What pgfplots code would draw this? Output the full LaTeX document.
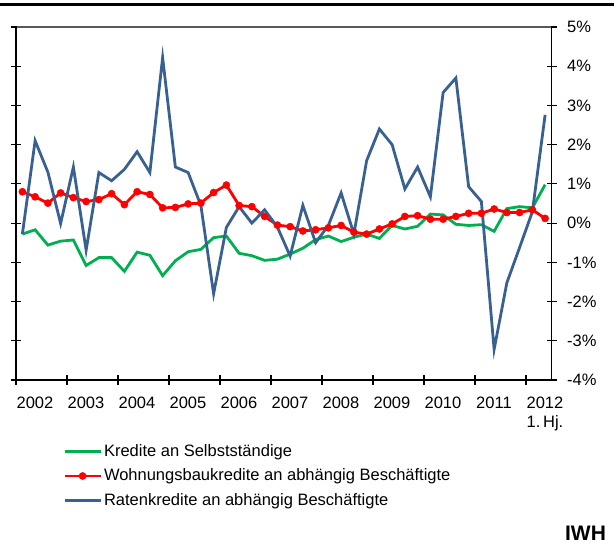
\documentclass[border=0pt]{standalone}
\usepackage{fontspec}
\setmainfont{Liberation Sans}
\usepackage{pgfplots}
\usepackage{pgfplotstable}
\pgfplotsset{compat=1.18}
\definecolor{kgreen}{RGB}{0,176,80}
\definecolor{kred}{RGB}{255,0,0}
\definecolor{kblue}{RGB}{56,97,146}
\definecolor{kgray}{RGB}{89,89,89}

\pgfplotstableread{
x        green  red    blue
2002.125 -0.28  0.80  -0.28
2002.375 -0.17  0.67   2.10
2002.625 -0.56  0.51   1.30
2002.875 -0.46  0.77  -0.01
2003.125 -0.43  0.65   1.43
2003.375 -1.08  0.55  -0.69
2003.625 -0.88  0.60   1.29
2003.875 -0.88  0.75   1.08
2004.125 -1.23  0.47   1.37
2004.375 -0.74  0.80   1.82
2004.625 -0.82  0.73   1.29
2004.875 -1.34  0.39   4.22
2005.125 -0.96  0.40   1.43
2005.375 -0.73  0.49   1.29
2005.625 -0.67  0.51   0.45
2005.875 -0.37  0.78  -1.80
2006.125 -0.33  0.97  -0.11
2006.375 -0.77  0.45   0.42
2006.625 -0.83  0.42   0.00
2006.875 -0.95  0.17   0.34
2007.125 -0.92 -0.05  -0.10
2007.375 -0.79 -0.09  -0.84
2007.625 -0.64 -0.20   0.45
2007.875 -0.42 -0.17  -0.50
2008.125 -0.33 -0.12  -0.06
2008.375 -0.47 -0.06   0.77
2008.625 -0.36 -0.23  -0.28
2008.875 -0.28 -0.28   1.59
2009.125 -0.39 -0.15   2.40
2009.375 -0.06 -0.02   2.00
2009.625 -0.15  0.17   0.87
2009.875 -0.08  0.19   1.43
2010.125  0.23  0.10   0.67
2010.375  0.21  0.10   3.33
2010.625 -0.03  0.17   3.70
2010.875 -0.06  0.25   0.93
2011.125 -0.04  0.25   0.55
2011.375 -0.21  0.36  -3.22
2011.625  0.37  0.27  -1.52
2011.875  0.42  0.27  -0.62
2012.125  0.39  0.34   0.29
2012.375  0.98  0.12   2.76
}\kredite

\begin{document}
\fontsize{16.5}{19.8}\selectfont
\begin{tikzpicture}[x=1pt,y=1pt]
\useasboundingbox (0,0) rectangle (614,544);
\draw[line width=2.8pt] (0,539.3) -- (614,539.3);
\begin{axis}[
  at={(16pt,164pt)}, anchor=south west,
  scale only axis, width=535.5pt, height=353pt,
  xmin=2002, xmax=2012.5, ymin=-4, ymax=5,
  axis line style={draw=none},
  xtick={2002,...,2012},
  xticklabels={2002,2003,2004,2005,2006,2007,2008,2009,2010,2011,{2012\\1.\,Hj.}},
  xtick pos=bottom,
  ytick={-4,-3,...,5},
  ytick pos=both,
  yticklabel pos=right,
  yticklabel={\pgfmathprintnumber{\tick}\%},
  /pgf/number format/assume math mode=true,
  tick align=center,
  major tick length=10pt,
  tick style={black, line width=1.2pt},
  xticklabel style={anchor=north, align=center, xshift=19pt, yshift=-6pt, font=\fontsize{16.5}{19}\selectfont},
  yticklabel style={anchor=west, xshift=5pt},
  legend style={draw=none, fill=none, at={(axis description cs:0.0878,-0.176)}, anchor=north west,
    inner sep=0pt, row sep=6pt, nodes={inner sep=2pt}},
  legend cell align=left,
  legend image code/.code={\draw[mark repeat=2,mark phase=2,#1] plot coordinates {(0pt,0pt)(18pt,0pt)(36pt,0pt)};},
]
\addplot[kgreen, line width=2.8pt, mark=none] table[x=x, y=green] {\kredite};
\addlegendentry{Kredite an Selbstständige}
\addplot[kred, line width=2.8pt, mark=*, mark size=3.6pt, mark options={solid, fill=kred, draw=kred, line width=0.4pt}] table[x=x, y=red] {\kredite};
\addlegendentry{Wohnungsbaukredite an abhängig Beschäftigte}
\addplot[kblue, line width=2.8pt, mark=none] table[x=x, y=blue] {\kredite};
\addlegendentry{Ratenkredite an abhängig Beschäftigte}
\end{axis}
\draw[kgray, line width=1.3pt] (16,517) -- (551.5,517);
\draw[black, line width=1.8pt] (16,517.6) -- (16,164) -- (551.5,164) -- (551.5,517.6);
\node[font=\bfseries\fontsize{21}{24}\selectfont, anchor=center] at (585.5,11) {IWH};
\end{tikzpicture}
\end{document}
